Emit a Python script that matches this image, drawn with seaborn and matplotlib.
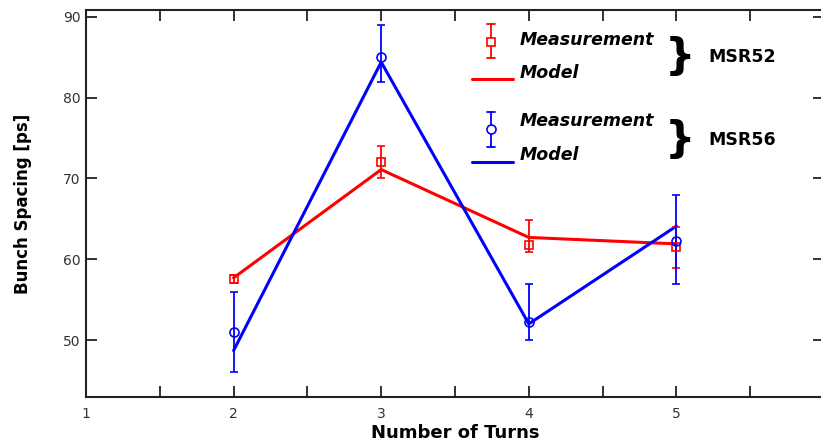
import matplotlib
matplotlib.use("Agg")
import matplotlib.pyplot as plt
import seaborn as sns
import pandas as pd
from matplotlib.lines import Line2D

turns = [2, 3, 4, 5]

# MSR52
msr52_meas = [57.5, 72.0, 61.8, 61.5]
msr52_err_lo = [0.5, 2.0, 0.9, 2.6]
msr52_err_hi = [0.5, 2.0, 3.1, 2.5]
msr52_model = [57.7, 71.1, 62.7, 61.9]

# MSR56
msr56_meas = [51.0, 85.0, 52.2, 62.2]
msr56_err_lo = [5.0, 3.0, 2.2, 5.3]
msr56_err_hi = [5.0, 4.0, 4.7, 5.8]
msr56_model = [48.7, 84.4, 52.0, 64.1]

x_ticks = [1, 2, 3, 4, 5, 6]
y_ticks = [50, 60, 70, 80, 90]

RED = "#ff0000"
BLUE = "#0000ff"

sns.set_style("ticks")
plt.rcParams["font.family"] = ["DejaVu Sans"]

W, H = 821, 447
fig = plt.figure(figsize=(W / 100, H / 100), dpi=100)
ax = fig.add_axes([86 / W, (H - 397) / H, (824 - 86) / W, (397 - 10) / H])

model = pd.DataFrame({
    "turns": turns * 2,
    "spacing": msr52_model + msr56_model,
    "ring": ["MSR52"] * 4 + ["MSR56"] * 4,
})
sns.lineplot(data=model, x="turns", y="spacing", hue="ring",
             palette={"MSR52": RED, "MSR56": BLUE}, linewidth=2.2,
             legend=False, ax=ax, zorder=2)

ax.errorbar(turns, msr52_meas, yerr=[msr52_err_lo, msr52_err_hi], fmt="s",
            color=RED, mfc="none", mec=RED, ms=6, mew=1.2, elinewidth=1.3,
            capsize=3, capthick=1.3, zorder=3)
ax.errorbar(turns, msr56_meas, yerr=[msr56_err_lo, msr56_err_hi], fmt="o",
            color=BLUE, mfc="none", mec=BLUE, ms=6.5, mew=1.2, elinewidth=1.3,
            capsize=3, capthick=1.3, zorder=3)

ax.set_xlim(1, 6)
ax.set_ylim(42.95, 90.85)
ax.set_xticks(x_ticks)
ax.set_xticks([1.5, 2.5, 3.5, 4.5, 5.5], minor=True)
ax.set_yticks(y_ticks)
ax.tick_params(axis="both", which="both", direction="in", top=True, right=True,
               length=8, width=1.3, color="#222222", labelsize=10,
               labelcolor="#333333")
ax.tick_params(axis="x", which="major", pad=7)
ax.tick_params(axis="y", which="major", pad=4)
for s in ax.spines.values():
    s.set_linewidth(1.5)
    s.set_color("#222222")

ax.set_xlabel("Number of Turns", fontsize=13, fontweight="bold", labelpad=2,
              color="black")
ax.set_ylabel("Bunch Spacing [ps]", fontsize=12, fontweight="bold", labelpad=22,
              color="black")

# Grouped legend, laid out in pixel coordinates
def px(x, y):
    return x / W, 1 - y / H

def key_errorbar(xc, ytop, ybot, ym, color, marker, ms):
    fx, fyt = px(xc, ytop)
    _, fyb = px(xc, ybot)
    _, fym = px(xc, ym)
    fig.add_artist(Line2D([fx, fx], [fyb, fyt], color=color, lw=1.3))
    for fy in (fyt, fyb):
        fig.add_artist(Line2D([fx - 4 / W, fx + 4 / W], [fy, fy], color=color, lw=1.3))
    fig.add_artist(Line2D([fx], [fym], marker=marker, ms=ms, mfc="white",
                          mec=color, mew=1.2, color=color))

def key_line(y, color):
    x0, fy = px(472, y)
    x1, _ = px(513, y)
    fig.add_artist(Line2D([x0, x1], [fy, fy], color=color, lw=2.2))

key_errorbar(491, 24, 58, 41.5, RED, "s", 6)
key_line(79, RED)
key_errorbar(491, 112, 147, 129, BLUE, "o", 6.5)
key_line(161.5, BLUE)

label_kw = dict(fontsize=12.5, fontweight="bold", fontstyle="italic",
                va="center", ha="left", color="black")
for y, t in [(40, "Measurement"), (72.5, "Model"),
             (121.5, "Measurement"), (155.5, "Model")]:
    fig.text(*px(520, y), t, **label_kw)

for yc, name in [(57, "MSR52"), (140, "MSR56")]:
    fig.text(*px(680, yc), "}", fontsize=31, fontweight="bold",
             ha="center", va="center", color="black")
    fig.text(*px(708, yc), name, fontsize=12.5, fontweight="bold",
             ha="left", va="center", color="black")

fig.savefig("out.png", dpi=100)
